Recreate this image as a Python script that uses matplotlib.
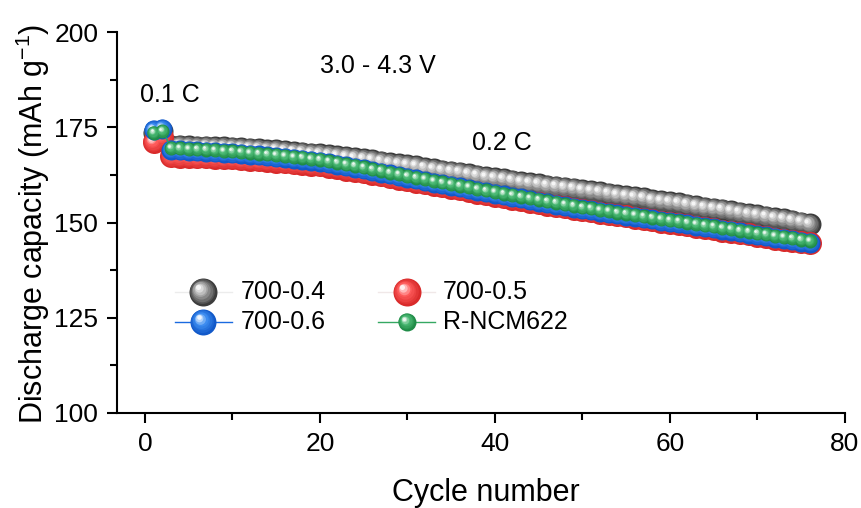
import numpy as np
import matplotlib
matplotlib.use("Agg")
import matplotlib.pyplot as plt
from matplotlib.colors import to_rgb
from matplotlib.transforms import offset_copy
from matplotlib.ticker import MultipleLocator

plt.rcParams['font.family'] = ['Liberation Sans', 'DejaVu Sans']
plt.rcParams['mathtext.fontset'] = 'custom'
plt.rcParams['mathtext.rm'] = 'Liberation Sans'
plt.rcParams['mathtext.it'] = 'Liberation Sans'

# ---- data: discharge capacity (mAh/g) per cycle ----
cycles = list(range(1, 77))

cap_700_04 = [173.5, 174.0,
              170.2, 170.1, 170.0, 169.9, 169.9, 169.8, 169.7, 169.6,
              169.5, 169.3, 169.2, 169.0, 168.9, 168.7, 168.5, 168.3, 168.1, 167.9,
              167.6, 167.4, 167.1, 166.9, 166.6, 166.3, 166.0, 165.6, 165.3, 165.0,
              164.7, 164.3, 164.0, 163.6, 163.3, 163.0, 162.6, 162.3, 161.9, 161.6,
              161.3, 161.0, 160.6, 160.3, 160.0, 159.7, 159.4, 159.1, 158.8, 158.5,
              158.2, 157.9, 157.5, 157.2, 156.9, 156.6, 156.3, 155.9, 155.6, 155.3,
              155.0, 154.6, 154.3, 153.9, 153.6, 153.3, 152.9, 152.6, 152.2, 151.9,
              151.5, 151.1, 150.8, 150.4, 150.0, 149.6]

cap_700_05 = [171.2, 172.5,
              167.4, 167.3, 167.2, 167.1, 167.1, 167.0, 166.9, 166.8,
              166.6, 166.5, 166.3, 166.2, 166.0, 165.8, 165.6, 165.4, 165.2, 165.0,
              164.6, 164.3, 163.9, 163.6, 163.2, 162.8, 162.4, 161.9, 161.5, 161.1,
              160.7, 160.3, 159.9, 159.5, 159.1, 158.7, 158.3, 157.8, 157.4, 157.0,
              156.6, 156.2, 155.9, 155.5, 155.1, 154.7, 154.3, 154.0, 153.6, 153.2,
              152.9, 152.6, 152.2, 151.9, 151.6, 151.3, 150.9, 150.6, 150.2, 149.9,
              149.6, 149.3, 148.9, 148.6, 148.3, 147.9, 147.6, 147.2, 146.9, 146.5,
              146.2, 145.8, 145.5, 145.2, 144.8, 144.5]

cap_700_06 = [174.3, 174.6,
              169.1, 169.0, 168.8, 168.7, 168.6, 168.5, 168.3, 168.2,
              168.0, 167.8, 167.6, 167.4, 167.2, 167.0, 166.7, 166.5, 166.2, 166.0,
              165.6, 165.2, 164.8, 164.4, 164.0, 163.5, 163.1, 162.6, 162.2, 161.7,
              161.3, 160.9, 160.4, 160.0, 159.6, 159.2, 158.8, 158.3, 157.9, 157.5,
              157.1, 156.7, 156.3, 155.9, 155.5, 155.1, 154.7, 154.3, 153.9, 153.5,
              153.2, 152.8, 152.5, 152.1, 151.8, 151.5, 151.1, 150.8, 150.4, 150.1,
              149.8, 149.5, 149.1, 148.8, 148.5, 148.1, 147.8, 147.4, 147.1, 146.7,
              146.4, 146.0, 145.7, 145.4, 145.0, 144.7]

cap_r_ncm622 = [173.6, 174.0,
                169.6, 169.5, 169.3, 169.2, 169.1, 169.0, 168.8, 168.7,
                168.5, 168.3, 168.1, 167.9, 167.7, 167.5, 167.2, 167.0, 166.7, 166.5,
                166.1, 165.7, 165.3, 164.9, 164.5, 164.0, 163.6, 163.1, 162.7, 162.2,
                161.8, 161.4, 160.9, 160.5, 160.1, 159.7, 159.3, 158.8, 158.4, 158.0,
                157.6, 157.2, 156.8, 156.4, 156.0, 155.6, 155.2, 154.8, 154.4, 154.0,
                153.7, 153.3, 153.0, 152.6, 152.3, 152.0, 151.6, 151.3, 150.9, 150.6,
                150.3, 150.0, 149.6, 149.3, 149.0, 148.6, 148.3, 147.9, 147.6, 147.2,
                146.9, 146.5, 146.2, 145.9, 145.5, 145.2]

labels = ["700-0.4", "700-0.5", "700-0.6", "R-NCM622"]
x_ticks = [0, 20, 40, 60, 80]
y_ticks = [100, 125, 150, 175, 200]

# ---- figure ----
fig = plt.figure(figsize=(8.62, 5.08), dpi=100)
ax = fig.add_axes([117/862, 1 - 413/508, 728/862, 381/508])


def mix(c1, c2, t):
    a, b = np.array(to_rgb(c1)), np.array(to_rgb(c2))
    return tuple(a + (b - a) * t)


def spheres(ax, x, y, diam_px, rim, body, z, base=None, n=8):
    """Shaded ball markers: concentric layers shrinking towards an upper-left highlight."""
    base = ax.transData if base is None else base
    s = diam_px * 0.72
    for i in range(n):
        t = i / (n - 1)
        size = s * (1 - 0.82 * t)
        if t < 0.6:
            col = mix(rim, body, t / 0.6)
        else:
            col = mix(body, "white", (t - 0.6) / 0.4 * 0.9)
        tr = offset_copy(base, fig=ax.figure, x=-0.16 * s * t, y=0.16 * s * t, units="points")
        ax.plot(x, y, ls="none", marker="o", ms=size, mfc=col, mec="none",
                transform=tr, zorder=z + i * 0.01, clip_on=False)


styles = [
    # diameter(px), rim colour, body colour, line colour, legend diameter
    (22, "#3c3c3c", "#a8a8a8", "#ececec", 28),
    (23, "#d92b2b", "#ff5c5c", "#f0e8e8", 28),
    (20, "#1259c9", "#3f8ff2", "#1a6ae0", 26),
    (14, "#1f8c47", "#4dbb76", "#35a862", 18),
]
series = [cap_700_04, cap_700_05, cap_700_06, cap_r_ncm622]

for k, (vals, st) in enumerate(zip(series, styles)):
    d, rim, body, lc, _ = st
    ax.plot(cycles, vals, color=lc, lw=1, zorder=2 + k)
    spheres(ax, cycles, vals, d, rim, body, 2 + k + 0.1)

# ---- legend, drawn in axes fraction ----
leg_rows = [0.318, 0.240]
leg_cols = [(0.0797, 0.118, 0.158, 0.170), (0.3585, 0.398, 0.4368, 0.4474)]
for k, (lab, st) in enumerate(zip(labels, styles)):
    d, rim, body, lc, ld = st
    row, col = divmod(k, 2)
    x0, xm, x1, xt = leg_cols[col]
    yy = leg_rows[row]
    ax.plot([x0, x1], [yy, yy], color=lc, lw=1, transform=ax.transAxes, zorder=10)
    spheres(ax, [xm], [yy], ld, rim, body, 10.1, base=ax.transAxes)
    ax.text(xt, yy, lab, transform=ax.transAxes, fontsize=18, va="center", ha="left",
            zorder=11)

# ---- annotations ----
ax.text(2.85, 183.5, "0.1 C", fontsize=18, ha="center", va="center")
ax.text(26.6, 191.1, "3.0 - 4.3 V", fontsize=18, ha="center", va="center")
ax.text(40.8, 170.9, "0.2 C", fontsize=18, ha="center", va="center")

# ---- axes styling ----
ax.set_xlim(-3.2, 80)
ax.set_ylim(100, 200)
ax.set_xticks(x_ticks)
ax.set_yticks(y_ticks)
ax.xaxis.set_minor_locator(MultipleLocator(10))
ax.yaxis.set_minor_locator(MultipleLocator(12.5))
for side in ("top", "right"):
    ax.spines[side].set_visible(False)
for side in ("left", "bottom"):
    ax.spines[side].set_linewidth(1.5)
ax.tick_params(which="major", direction="out", length=7.5, width=1.5, labelsize=19, pad=6)
ax.tick_params(which="minor", direction="out", length=5, width=1.5)

fig.text(486/862, 1 - 493/508, "Cycle number", fontsize=22, ha="center", va="center")
fig.text(33/862, 1 - 224/508, "Discharge capacity (mAh g$^{-1}$)", fontsize=22,
         ha="center", va="center", rotation=90)

fig.savefig("out.png", dpi=100)
